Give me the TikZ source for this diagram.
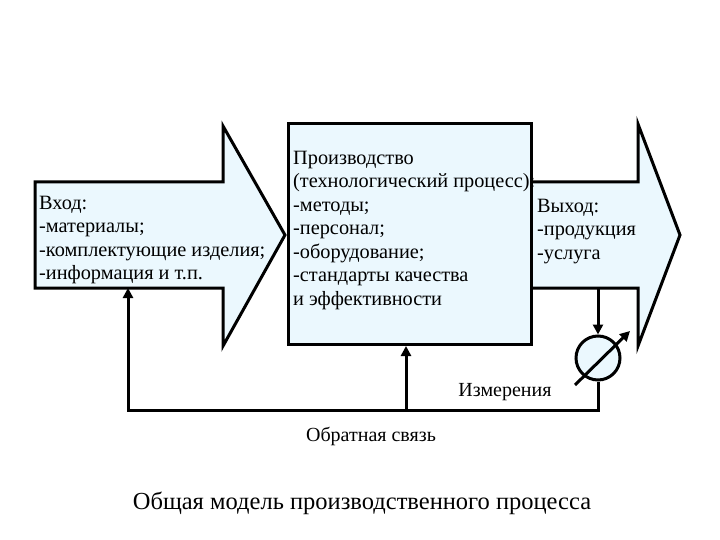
\documentclass[tikz,border=0pt]{standalone}
\usepackage{fontspec}
\setmainfont{Liberation Serif}
\usetikzlibrary{arrows.meta}
\begin{document}
\begin{tikzpicture}[x=1pt,y=-1pt,
  shp/.style={draw=black,line width=3pt,fill=cyan!8},
  ln/.style={draw=black,line width=3pt},
  txt/.style={anchor=north west,align=left,font=\fontsize{20.3}{23.5}\selectfont,inner sep=0pt},
  lab/.style={font=\fontsize{20}{22}\selectfont,inner sep=0pt}]
\useasboundingbox (0,0) rectangle (720,540);
% output arrow
\draw[shp,line join=miter] (528,182) -- (638,182) -- (638,124) -- (680,235) -- (638,346) -- (638,288) -- (528,288);
% input arrow
\draw[shp,line join=miter] (35,182) -- (223,182) -- (223,126) -- (285,235) -- (223,346) -- (223,288) -- (35,288) -- cycle;
% process box
\node[shp,minimum width=243pt,minimum height=221pt,anchor=north west,inner sep=0pt] (proc) at (287,122) {};
\node[txt] (ptext) at (293,151) {Производство\\(технологический процесс):\\-методы;\\-персонал;\\-оборудование;\\-стандарты качества\\и эффективности};
\node[txt] (intext) at (39,196) {Вход:\\-материалы;\\-комплектующие изделия;\\-информация и т.п.};
\node[txt] (outtext) at (537,199) {Выход:\\-продукция\\-услуга};
% measurement
\node[shp,circle,minimum size=44pt,inner sep=0pt] (meas) at (598,358) {};
\coordinate (otop) at (598,288);
\draw[ln,-{Triangle[length=10pt,width=10pt]}] (otop) -- (meas.north);
\coordinate (d1) at (575,385);
\coordinate (d2) at (630,331);
\draw[ln,-{Triangle[length=10pt,width=10pt]}] (d1) -- (d2);
\coordinate (c1) at (598,410);
\coordinate (c2) at (128,410);
\coordinate (inb) at (128,288);
\draw[ln,-{Triangle[length=10pt,width=10pt]}] (meas.south) -- (c1) -- (c2) -- (inb);
\coordinate (c3) at (406,410);
\draw[ln,-{Triangle[length=10pt,width=10pt]}] (c3) -- (proc.south -| c3);
\node[lab] (l1) at (505,392) {Измерения};
\node[lab] (l2) at (371,436) {Обратная связь};
\node[font=\fontsize{24.5}{27}\selectfont,inner sep=0pt] (title) at (362,503) {Общая модель производственного процесса};
\end{tikzpicture}
\end{document}
